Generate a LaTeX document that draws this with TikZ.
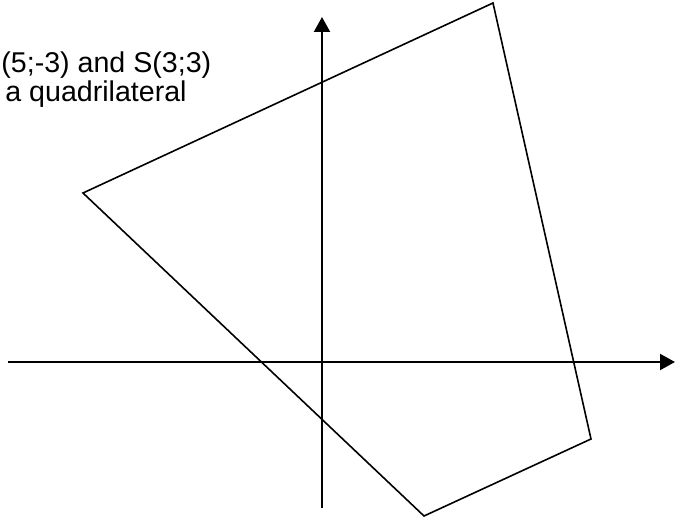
\documentclass[tikz,border=0pt]{standalone}
\usepackage{fontspec}
\setmainfont{Liberation Sans}
\usetikzlibrary{arrows.meta}

\begin{document}
\begin{tikzpicture}[x=0.5pt,y=-0.5pt]
\tikzset{
  axis/.style={line width=1.1pt,-{Triangle[width=8pt,length=7.5pt]}},
  quad/.style={line width=0.8pt,line join=miter},
  note/.style={anchor=base west,inner sep=0pt,font=\fontsize{14.3}{16}\selectfont}
}
\useasboundingbox (0,0) rectangle (675,519);
% axes
\coordinate (xl) at (8,362);
\coordinate (xr) at (675,362);
\coordinate (yb) at (322,508);
\coordinate (yt) at (322,17);
\draw[axis] (xl) -- (xr);
\draw[axis] (yb) -- (yt);
% quadrilateral
\coordinate (top) at (493,3);
\coordinate (left) at (83,193);
\coordinate (bot) at (424,516);
\coordinate (right) at (591,439);
\draw[quad] (top) -- (left) -- (bot) -- (right) -- cycle;
% text
\node[note] (line1) at (1,73) {(5;-3) and S(3;3)};
\node[note] (line2) at (5,102) {a quadrilateral};
\end{tikzpicture}
\end{document}
